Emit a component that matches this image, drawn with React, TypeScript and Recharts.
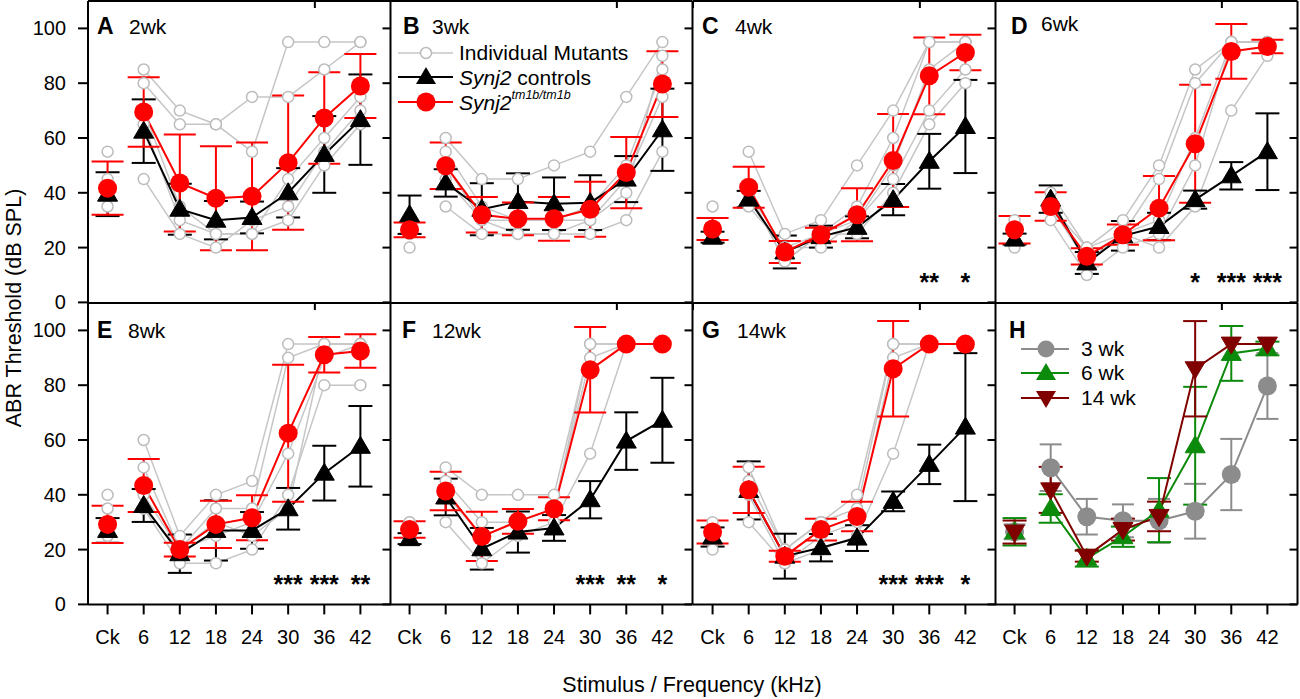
import React from 'react';
import { LineChart, Line, XAxis, YAxis, ErrorBar, ReferenceDot } from 'recharts';

const FONT = '"Liberation Sans", Arial, Helvetica, sans-serif';

const freqs = [0, 6, 12, 18, 24, 30, 36, 42];
const freqLabels = ['Ck', '6', '12', '18', '24', '30', '36', '42'];
const dbTicks = [0, 20, 40, 60, 80, 100];

// A - 2wk
const ctrl2wk = [39.5, 62.5, 34, 30, 31, 40, 54, 66.7];
const ctrl2wkSd = [8, 11.6, 9.3, 7, 5.8, 9, 14, 16.5];
const mut2wk = [41.7, 69.5, 43.6, 38, 38.7, 51, 67.3, 79];
const mut2wkSd = [9.7, 12.7, 17.7, 19, 19.7, 24.5, 16.7, 11.7];
const ind2wk = [
    [55, 85, 70, 65, 75, 75, 85, 95],
    [40, 80, 65, 65, 55, 95, 95, 95],
    [35, 65, 30, 25, 25, 45, 60, 75],
    [45, 45, 25, 20, 30, 35, 55, 70],
    [40, 70, 35, 25, 25, 30, 50, 65],
];

// B - 3wk
const ctrl3wk = [32, 43.6, 34, 36.8, 36, 36.4, 45, 63];
const ctrl3wkSd = [7, 5, 9.5, 10.3, 9.6, 10, 8.4, 15];
const mut3wk = [26.5, 49.9, 32, 30.5, 30.5, 34, 47.4, 79.7];
const mut3wkSd = [2.7, 8.5, 6.5, 6, 8, 10, 13, 12];
const ind3wk = [
    [20, 60, 45, 45, 50, 55, 75, 95],
    [25, 55, 35, 30, 30, 35, 50, 85],
    [25, 45, 30, 25, 25, 30, 45, 75],
    [30, 35, 25, 25, 25, 25, 30, 55],
    [30, 50, 30, 30, 30, 30, 40, 90],
];

// C - 4wk
const ctrl4wk = [23.8, 37.7, 18.4, 24, 27.4, 37.5, 51.5, 64.2];
const ctrl4wkSd = [2, 3, 6, 4, 4, 5.7, 10, 17];
const mut4wk = [26.8, 42, 18.4, 24.7, 32, 51.8, 82.7, 91.2];
const mut4wkSd = [4, 7.5, 4, 2.5, 9.7, 17, 14, 6.5];
const ind4wk = [
    [35, 55, 25, 30, 50, 70, 95, 95],
    [25, 40, 20, 25, 35, 60, 95, 95],
    [25, 40, 15, 25, 30, 50, 85, 95],
    [25, 35, 20, 20, 30, 45, 70, 85],
    [25, 40, 15, 25, 25, 40, 65, 80],
];
const stars4wk = ['', '', '', '', '', '', '**', '*'];

// D - 6wk
const ctrl6wk = [23.1, 37.7, 14.4, 24.3, 27.7, 37.5, 46.2, 55];
const ctrl6wkSd = [2, 5, 4, 5.4, 5, 3.3, 5, 14];
const mut6wk = [26.5, 35, 16.8, 24.7, 34.4, 57.9, 91.6, 93.4];
const mut6wkSd = [5, 5.2, 3, 3.7, 11.7, 21.5, 10, 2.5];
const ind6wk = [
    [30, 40, 20, 30, 50, 85, 95, 95],
    [25, 35, 15, 25, 45, 80, 95, 95],
    [20, 30, 10, 20, 25, 50, 95, 95],
    [25, 35, 15, 25, 20, 35, 70, 90],
    [25, 35, 20, 25, 30, 60, 95, 95],
];
const stars6wk = ['', '', '', '', '', '*', '***', '***'];

// E - 8wk
const ctrl8wk = [27, 36.1, 18.5, 27, 27, 34.9, 47.9, 57.7];
const ctrl8wkSd = [4.5, 6, 7, 11, 6.7, 7.6, 10, 14.7];
const mut8wk = [29.2, 43.4, 20, 29.2, 31.6, 62.5, 91.1, 92.5];
const mut8wkSd = [6.8, 9.7, 2.5, 8.6, 8.2, 25, 6.5, 6.1];
const ind8wk = [
    [40, 60, 25, 40, 45, 95, 95, 95],
    [35, 50, 20, 35, 35, 90, 95, 95],
    [25, 40, 20, 25, 30, 55, 90, 95],
    [25, 35, 15, 15, 20, 40, 80, 80],
    [30, 35, 20, 30, 25, 35, 95, 95],
];
const stars8wk = ['', '', '', '', '', '***', '***', '**'];

// F - 12wk
const ctrl12wk = [24, 39.2, 20.3, 26.4, 27.9, 38.2, 59.6, 67.2];
const ctrl12wkSd = [2, 6.7, 7.6, 7.5, 4.7, 6.8, 10.5, 15.5];
const mut12wk = [27.3, 41.4, 24.8, 30.3, 34.9, 85.6, 95, 95];
const mut12wkSd = [3, 7, 9, 4.5, 4.2, 15.6, null, null];
const ind12wk = [
    [30, 50, 40, 40, 40, 95, 95, 95],
    [25, 45, 30, 30, 35, 95, 95, 95],
    [25, 40, 25, 30, 35, 90, 95, 95],
    [30, 30, 15, 25, 30, 55, 95, 95],
];
const stars12wk = ['', '', '', '', '', '***', '**', '*'];

// G - 14wk
const ctrl14wk = [24.6, 41.6, 17.6, 20.7, 24.2, 37.6, 51.1, 64.7];
const ctrl14wkSd = [3.5, 10.6, 8.2, 5, 4.7, 3.6, 7.2, 27];
const mut14wk = [26.4, 41.8, 17.6, 27.3, 32.1, 86, 95, 95];
const mut14wkSd = [4.2, 8.4, 2, 4, 5.4, 17.4, null, null];
const ind14wk = [
    [30, 50, 20, 30, 40, 95, 95, 95],
    [25, 45, 20, 30, 35, 95, 95, 95],
    [25, 40, 15, 25, 30, 90, 95, 95],
    [20, 30, 15, 20, 25, 55, 95, 95],
];
const stars14wk = ['', '', '', '', '', '***', '***', '*'];

const PLOT_LEFT = [87.5, 390, 692.5, 995];
const PLOT_TOP = [1.3, 302.7];
const PLOT_W = 302.5;
const PLOT_H = 301.4;

const RED = '#ff0000';
const GRAY_LINE = '#c6c6c6';
const H_GRAY = '#8c8c8c';
const H_GREEN = '#0c8a0c';
const H_DARKRED = '#800000';

const triPath = (cx: number, cy: number, down = false) =>
    down
        ? `M${cx - 10},${cy - 7}L${cx + 10},${cy - 7}L${cx},${cy + 10}Z`
        : `M${cx},${cy - 10}L${cx + 10},${cy + 7}L${cx - 10},${cy + 7}Z`;

const triangleDot = (color: string, down = false) => (props: any) => {
    const { cx, cy, key } = props;
    if (cx == null || cy == null) return <g key={key} />;
    return <path key={key} d={triPath(cx, cy, down)} fill={color} stroke={color} strokeWidth={1} />;
};

const circleDot = (color: string, r: number) => ({ r, fill: color, stroke: color, strokeWidth: 0 });
const openDot = { r: 5.5, fill: '#fff', stroke: '#bcbcbc', strokeWidth: 1.5 };

// one row per stimulus, plus an empty row so Ck is not joined to 6 kHz
function buildRows(series: Record<string, (number | null)[]>) {
    const rows: any[] = [];
    freqs.forEach((f, i) => {
        const row: any = { x: f };
        Object.keys(series).forEach((k) => { row[k] = series[k][i]; });
        rows.push(row);
        if (i === 0) {
            const gap: any = { x: 3 };
            Object.keys(series).forEach((k) => { gap[k] = null; });
            rows.push(gap);
        }
    });
    return rows;
}

type Series = { key: string; sd?: string; color: string; width: number; dot: any; cap?: number };

const mutantPanels = [
    { letter: 'A', title: '2wk', col: 0, row: 0, ctrl: ctrl2wk, ctrlSd: ctrl2wkSd, mut: mut2wk, mutSd: mut2wkSd, inds: ind2wk, stars: null as string[] | null },
    { letter: 'B', title: '3wk', col: 1, row: 0, ctrl: ctrl3wk, ctrlSd: ctrl3wkSd, mut: mut3wk, mutSd: mut3wkSd, inds: ind3wk, stars: null },
    { letter: 'C', title: '4wk', col: 2, row: 0, ctrl: ctrl4wk, ctrlSd: ctrl4wkSd, mut: mut4wk, mutSd: mut4wkSd, inds: ind4wk, stars: stars4wk },
    { letter: 'D', title: '6wk', col: 3, row: 0, ctrl: ctrl6wk, ctrlSd: ctrl6wkSd, mut: mut6wk, mutSd: mut6wkSd, inds: ind6wk, stars: stars6wk },
    { letter: 'E', title: '8wk', col: 0, row: 1, ctrl: ctrl8wk, ctrlSd: ctrl8wkSd, mut: mut8wk, mutSd: mut8wkSd, inds: ind8wk, stars: stars8wk },
    { letter: 'F', title: '12wk', col: 1, row: 1, ctrl: ctrl12wk, ctrlSd: ctrl12wkSd, mut: mut12wk, mutSd: mut12wkSd, inds: ind12wk, stars: stars12wk },
    { letter: 'G', title: '14wk', col: 2, row: 1, ctrl: ctrl14wk, ctrlSd: ctrl14wkSd, mut: mut14wk, mutSd: mut14wkSd, inds: ind14wk, stars: stars14wk },
];

// where the panel letter / age label sit, relative to the plot corner
const labelPos: Record<string, [number, number, number, number]> = {
    A: [9.5, 33, 41.5, 33], B: [13, 33, 42, 33], C: [9.5, 33, 42.5, 33], D: [16, 33, 46, 30],
    E: [9.5, 35.5, 40.5, 35.5], F: [12, 35.5, 42, 35.5], G: [9.5, 35.5, 44.5, 35.5], H: [14, 35.5, 0, 0],
};

interface PanelProps {
    col: number;
    row: number;
    data: any[];
    series: Series[];
    stars?: string[] | null;
}

const Panel: React.FC<PanelProps> = ({ col, row, data, series, stars }) => {
    const first = col === 0;
    const bottom = row === 1;
    const wl = first ? 80 : 0;
    const ht = 4;
    const wr = 4;
    const hb = bottom ? 62 : 0;
    // top row keeps a little room below so the "0" label is not clipped
    const mb = bottom ? 0 : 14;
    const axisStyle = { stroke: '#000', strokeWidth: 2 };
    const tickText = { fill: '#000', fontSize: 20, fontFamily: FONT };

    return (
        <div style={{ position: 'absolute', left: PLOT_LEFT[col] - wl, top: PLOT_TOP[row] - ht }}>
            <LineChart
                width={wl + PLOT_W + wr}
                height={ht + PLOT_H + hb + mb}
                data={data}
                margin={{ top: 0, right: 0, bottom: mb, left: 0 }}
            >
                <XAxis
                    dataKey="x"
                    type="number"
                    domain={[-3.25, 47]}
                    allowDataOverflow
                    ticks={freqs}
                    interval={0}
                    hide={!bottom}
                    height={hb}
                    axisLine={axisStyle}
                    tickLine={axisStyle}
                    tickSize={10}
                    tickMargin={15}
                    tick={tickText}
                    tickFormatter={(v: number) => freqLabels[freqs.indexOf(v)]}
                />
                <XAxis
                    xAxisId="top"
                    orientation="top"
                    type="number"
                    domain={[-3.25, 47]}
                    allowDataOverflow
                    ticks={freqs}
                    interval={0}
                    height={ht}
                    axisLine={axisStyle}
                    tickLine={axisStyle}
                    tickSize={-7}
                    tickFormatter={() => ''}
                />
                <YAxis
                    type="number"
                    domain={[0, 110]}
                    allowDataOverflow
                    ticks={dbTicks}
                    interval={0}
                    hide={!first}
                    width={wl}
                    axisLine={axisStyle}
                    tickLine={axisStyle}
                    tickSize={10}
                    tickMargin={12}
                    tick={tickText}
                />
                <YAxis
                    yAxisId="right"
                    orientation="right"
                    type="number"
                    domain={[0, 110]}
                    allowDataOverflow
                    ticks={dbTicks}
                    interval={0}
                    width={wr}
                    axisLine={axisStyle}
                    tickLine={axisStyle}
                    tickSize={-8}
                    tickFormatter={() => ''}
                />
                {series.map((s) => (
                    <Line
                        key={s.key}
                        type="linear"
                        dataKey={s.key}
                        stroke={s.color}
                        strokeWidth={s.width}
                        dot={s.dot}
                        activeDot={false}
                        isAnimationActive={false}
                    >
                        {s.sd && (
                            <ErrorBar dataKey={s.sd} width={s.cap} stroke={s.color} strokeWidth={2} direction="y" />
                        )}
                    </Line>
                ))}
                {stars &&
                    stars.map((s, i) =>
                        s ? (
                            <ReferenceDot
                                key={`star-${i}`}
                                x={freqs[i]}
                                y={7.5}
                                r={0}
                                fill="none"
                                stroke="none"
                                label={{ value: s, position: 'center', fontSize: 25, fontWeight: 'bold', fill: '#000', fontFamily: FONT }}
                            />
                        ) : null
                    )}
            </LineChart>
        </div>
    );
};

const App: React.FC = () => {
    const panels = mutantPanels.map((p) => {
        const cols: Record<string, (number | null)[]> = { ctrl: p.ctrl, ctrlSd: p.ctrlSd, mut: p.mut, mutSd: p.mutSd };
        p.inds.forEach((v, i) => { cols[`ind${i}`] = v; });
        const series: Series[] = [
            ...p.inds.map((_, i) => ({ key: `ind${i}`, color: GRAY_LINE, width: 1.5, dot: openDot })),
            { key: 'ctrl', sd: 'ctrlSd', color: '#000', width: 2, dot: triangleDot('#000'), cap: 12 },
            { key: 'mut', sd: 'mutSd', color: RED, width: 2, dot: circleDot(RED, 9.5), cap: 16 },
        ];
        return { ...p, data: buildRows(cols), series };
    });

    const hData = buildRows({ w3: mut3wk, w3Sd: mut3wkSd, w6: mut6wk, w6Sd: mut6wkSd, w14: mut14wk, w14Sd: mut14wkSd });
    const hSeries: Series[] = [
        { key: 'w3', sd: 'w3Sd', color: H_GRAY, width: 2, dot: circleDot(H_GRAY, 9.5), cap: 11 },
        { key: 'w6', sd: 'w6Sd', color: H_GREEN, width: 2, dot: triangleDot(H_GREEN), cap: 12 },
        { key: 'w14', sd: 'w14Sd', color: H_DARKRED, width: 2, dot: triangleDot(H_DARKRED, true), cap: 12 },
    ];

    const allLabels = [...panels.map((p) => ({ letter: p.letter, title: p.title, col: p.col, row: p.row })), { letter: 'H', title: '', col: 3, row: 1 }];

    return (
        <div style={{ position: 'absolute', left: 0, top: 0, width: 1300, height: 699, background: '#fff', fontFamily: FONT }}>
            {panels.map((p) => (
                <Panel key={p.letter} col={p.col} row={p.row} data={p.data} series={p.series} stars={p.stars} />
            ))}
            <Panel col={3} row={1} data={hData} series={hSeries} />

            <svg width={1300} height={699} style={{ position: 'absolute', left: 0, top: 0, pointerEvents: 'none' }} fontFamily={FONT}>
                {allLabels.map((l) => {
                    const [lx, ly, tx, ty] = labelPos[l.letter];
                    const x0 = PLOT_LEFT[l.col];
                    const y0 = PLOT_TOP[l.row];
                    return (
                        <g key={l.letter}>
                            <text x={x0 + lx} y={y0 + ly} fontSize={23} fontWeight="bold" fill="#000">{l.letter}</text>
                            {l.title && <text x={x0 + tx} y={y0 + ty} fontSize={21} fill="#000">{l.title}</text>}
                        </g>
                    );
                })}

                <text transform="translate(21,308) rotate(-90)" textAnchor="middle" fontSize={21.5} fill="#000">ABR Threshold (dB SPL)</text>
                <text x={692} y={692} textAnchor="middle" fontSize={21.5} fill="#000">Stimulus / Frequency (kHz)</text>

                {/* legend, panel B */}
                <line x1={398} x2={453} y1={53} y2={53} stroke={GRAY_LINE} strokeWidth={1.5} />
                <circle cx={426} cy={53} r={5.5} fill="#fff" stroke="#bcbcbc" strokeWidth={1.5} />
                <text x={459} y={60} fontSize={21} fill="#000">Individual Mutants</text>
                <line x1={398} x2={453} y1={77} y2={77} stroke="#000" strokeWidth={2} />
                <path d={triPath(426, 77)} fill="#000" />
                <text x={459} y={85} fontSize={21} fill="#000"><tspan fontStyle="italic">Synj2</tspan> controls</text>
                <line x1={398} x2={453} y1={102} y2={102} stroke={RED} strokeWidth={2} />
                <circle cx={426} cy={102} r={9.5} fill={RED} />
                <text x={459} y={110} fontSize={21} fill="#000" fontStyle="italic">
                    Synj2<tspan dy={-11} fontSize={12.5}>tm1b/tm1b</tspan>
                </text>

                {/* legend, panel H */}
                <line x1={1021} x2={1069} y1={349} y2={349} stroke={H_GRAY} strokeWidth={2} />
                <circle cx={1046} cy={349} r={8.5} fill={H_GRAY} />
                <text x={1081} y={356} fontSize={21} fill="#000">3 wk</text>
                <line x1={1021} x2={1069} y1={373} y2={373} stroke={H_GREEN} strokeWidth={2} />
                <path d={triPath(1046, 373)} fill={H_GREEN} />
                <text x={1081} y={380} fontSize={21} fill="#000">6 wk</text>
                <line x1={1021} x2={1069} y1={398} y2={398} stroke={H_DARKRED} strokeWidth={2} />
                <path d={triPath(1046, 398, true)} fill={H_DARKRED} />
                <text x={1081} y={405} fontSize={21} fill="#000">14 wk</text>
            </svg>
        </div>
    );
};

export default App;
